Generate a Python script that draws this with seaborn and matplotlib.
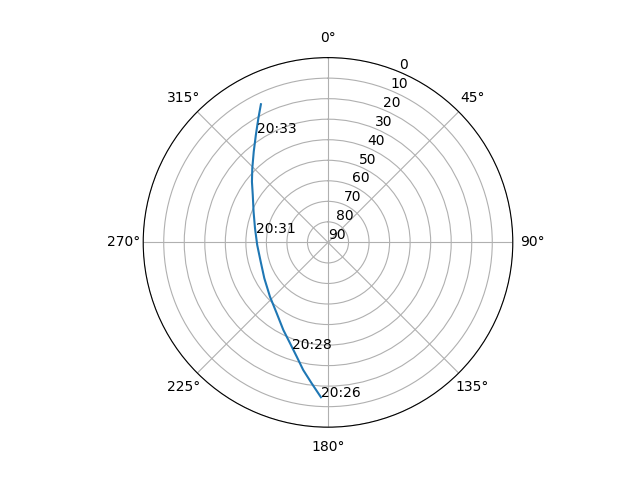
import numpy as np
import pandas as pd
import matplotlib
matplotlib.use("Agg")
import matplotlib.pyplot as plt
import seaborn as sns

# satellite pass: azimuth (deg), elevation (deg)
azimuth = [182.6, 186.6, 191.0, 195.3, 200.6, 207.0, 215.9, 226.9, 240.6, 254.0,
           267.9, 280.9, 292.4, 302.2, 308.6, 314.4, 320.7, 326.1, 330.7, 334.1]
elevation = [14.5, 20.9, 26.7, 32.3, 37.5, 42.1, 47.4, 51.3, 54.4, 55.9,
             55.5, 53.8, 50.8, 46.7, 42.6, 38.4, 32.9, 27.0, 20.7, 15.2]

# time labels
label_txt = ["20:26", "20:28", "20:31", "20:33"]
label_az = [182.6, 198.8, 277.7, 326.8]
label_el = [14.5, 35.2, 54.6, 26.5]

df = pd.DataFrame({"theta": np.radians(azimuth), "el": elevation})

fig = plt.figure(figsize=(6.4, 4.8), dpi=100)
ax = fig.add_subplot(111, projection="polar")
ax.set_theta_zero_location("N")
ax.set_theta_direction(-1)

sns.lineplot(data=df, x="theta", y="el", sort=False, ax=ax, color="#1f77b4")

for t, a, e in zip(label_txt, label_az, label_el):
    ax.text(np.radians(a), e, t, ha="left", va="baseline", fontsize=10)

ax.set_ylim(90, 0)
ax.set_yticks(range(0, 91, 10))
ax.set_xlabel("")
ax.set_ylabel("")
ax.grid(True)

fig.savefig("out.png", dpi=100)
